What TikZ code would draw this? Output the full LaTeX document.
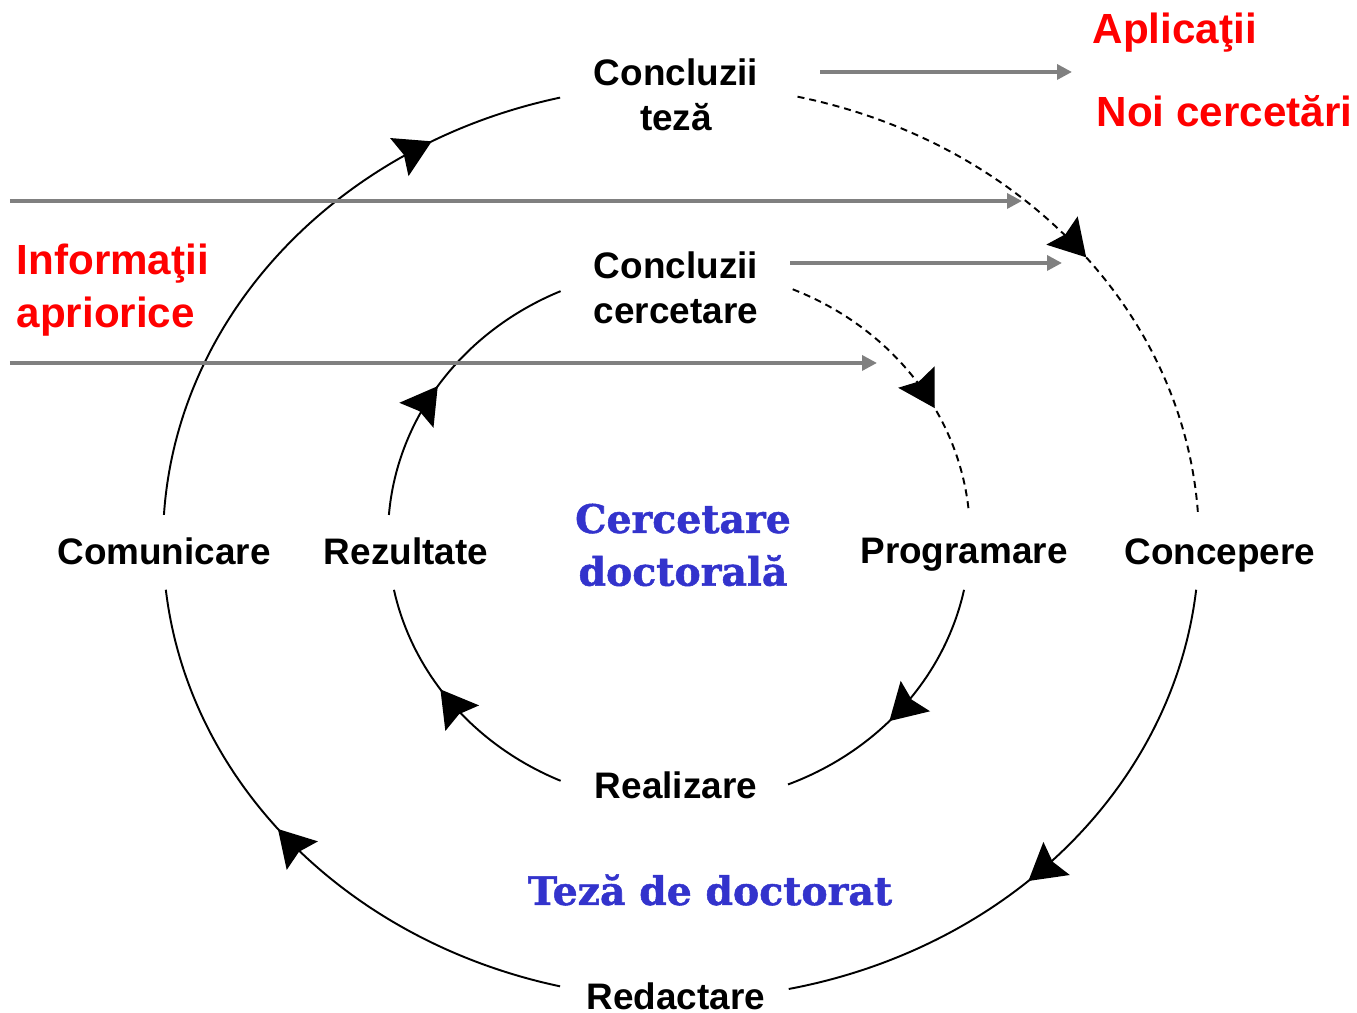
\documentclass[tikz,border=0pt]{standalone}
\usepackage{fontspec}
\setmainfont{Liberation Sans}
\newfontfamily\bluefont[BoldFeatures={FakeBold=1.3}]{DejaVu Serif}
\usetikzlibrary{positioning,arrows.meta,decorations.markings,calc}

\definecolor{tezablue}{RGB}{51,51,204}
\definecolor{linkgray}{RGB}{128,128,128}

\tikzset{
  lbl/.style={font=\fontsize{10.5}{12.8}\selectfont\bfseries, align=center, inner sep=0pt},
  redlbl/.style={font=\fontsize{12}{15}\selectfont\bfseries, text=red, align=left, inner sep=0pt},
  bluelbl/.style={font=\fontsize{11.2}{15}\selectfont\bluefont\bfseries, text=tezablue, align=center, inner sep=0pt},
  ring/.style={line width=0.55pt},
  ringdash/.style={ring, dash pattern=on 0.7mm off 0.5mm},
  link/.style={linkgray, line width=1pt, -{Triangle[length=1.5mm,width=1.5mm]}},
  midarrow/.style={postaction={decorate}, decoration={markings,
      mark=at position #1 with {\arrow{Stealth[length=3.6mm,width=4.2mm,inset=0.5mm]}}}},
}

\begin{document}
\begin{tikzpicture}[x=0.1mm,y=0.1mm]
\useasboundingbox (0,0) rectangle (1357,1013);

% centres of the two rings
\coordinate (O1) at (681,471);
\coordinate (O2) at (679,477);

% labels
\node[lbl] (tz) at (676,918) {Concluzii\\teză};
\node[lbl] (cc) at (676,725) {Concluzii\\cercetare};
\node[lbl] (com) at (164,462) {Comunicare};
\node[lbl] (rez) at (406,462) {Rezultate};
\node[lbl] (prog) at (964,458) {Programare};
\node[lbl] (conc) at (1220,458) {Concepere};
\node[lbl] (real) at (676,228) {Realizare};
\node[lbl] (redc) at (676,17) {Redactare};
\node[bluelbl] (cd) at (683,468) {Cercetare\\doctorală};
\node[bluelbl] (tdd) at (710,123) {Teză de doctorat};
\node[redlbl, anchor=west] (info) at (16,723) {Informaţii\\apriorice};
\node[redlbl, anchor=west] (apl) at (1092,980) {Aplicaţii};
\node[redlbl, anchor=west] (noi) at (1096,902) {Noi cercetări};

% outer ring (teza)
\draw[ringdash, midarrow=0.54] ($(O1)+(77:518 and 457)$) arc[start angle=77, end angle=3.4, x radius=518, y radius=457];
\draw[ring, midarrow=0.565] ($(O1)+(-6:518 and 457)$) arc[start angle=-6, end angle=-78, x radius=518, y radius=457];
\draw[ring, midarrow=0.55] ($(O1)+(256.5:518 and 457)$) arc[start angle=256.5, end angle=186, x radius=518, y radius=457];
\draw[ring, midarrow=0.78] ($(O1)+(176.6:518 and 457)$) arc[start angle=176.6, end angle=103.5, x radius=518, y radius=457];

% inner ring (cercetare)
\draw[ringdash, midarrow=0.63] ($(O2)+(67:291 and 268)$) arc[start angle=67, end angle=5, x radius=291, y radius=268];
\draw[ring, midarrow=0.56] ($(O2)+(-11.6:291 and 268)$) arc[start angle=-11.6, end angle=-68, x radius=291, y radius=268];
\draw[ring, midarrow=0.58] ($(O2)+(246:291 and 268)$) arc[start angle=246, end angle=191.6, x radius=291, y radius=268];
\draw[ring, midarrow=0.47] ($(O2)+(175.5:291 and 268)$) arc[start angle=175.5, end angle=114, x radius=291, y radius=268];

% grey links
\coordinate (g1a) at (820,941);
\coordinate (g1b) at (1072,941);
\coordinate (g2a) at (10,812);
\coordinate (g2b) at (1022,812);
\coordinate (g3a) at (790,750);
\coordinate (g3b) at (1062,750);
\coordinate (g4a) at (10,650);
\coordinate (g4b) at (877,650);
\draw[link] (g1a) -- (g1b);
\draw[link] (g2a) -- (g2b);
\draw[link] (g3a) -- (g3b);
\draw[link] (g4a) -- (g4b);
\end{tikzpicture}
\end{document}
